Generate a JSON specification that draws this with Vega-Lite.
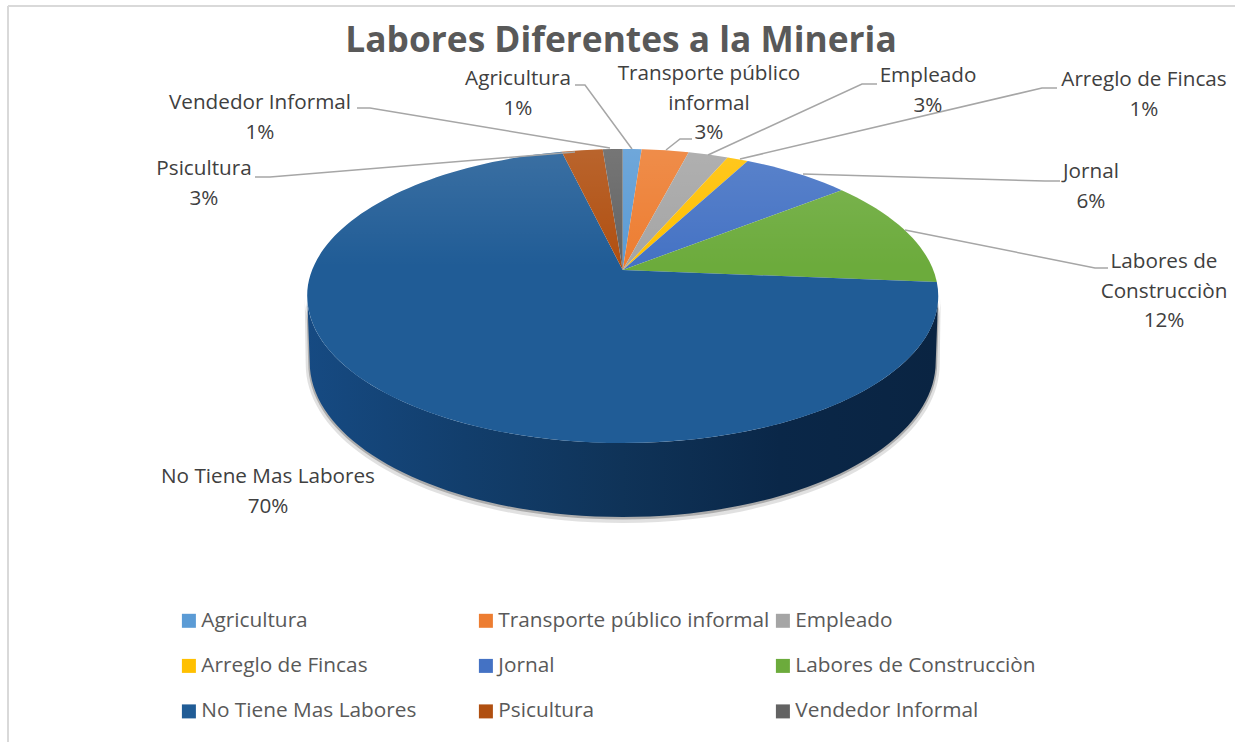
{
"$schema":"https://vega.github.io/schema/vega-lite/v6.json",
"width":1235,"height":742,"padding":0,"autosize":"none",
"background":"white",
"view":{"stroke":null},
"title":{"text":"Labores Diferentes a la Mineria","orient":"top","anchor":"middle","offset":-59,"dx":3.5,"font":"Open Sans","fontSize":35.3,"fontWeight":"bold","color":"#595959"},
"config":{"font":"Open Sans"},
"datasets":{
"porciones":[
{"categoria":"Agricultura","id":"a","porcentaje":1},
{"categoria":"Transporte público informal","id":"b","porcentaje":3},
{"categoria":"Empleado","id":"c","porcentaje":3},
{"categoria":"Arreglo de Fincas","id":"d","porcentaje":1},
{"categoria":"Jornal","id":"e","porcentaje":6},
{"categoria":"Labores de Construcciòn","id":"f","porcentaje":12},
{"categoria":"No Tiene Mas Labores","id":"g","porcentaje":70},
{"categoria":"Psicultura","id":"h","porcentaje":3},
{"categoria":"Vendedor Informal","id":"i","porcentaje":1}
],
"etiquetas":[
{"texto":"Agricultura\n1%","x":518,"y":79},
{"texto":"Transporte público\ninformal\n3%","x":709,"y":74},
{"texto":"Empleado\n3%","x":928,"y":76},
{"texto":"Arreglo de Fincas\n1%","x":1144,"y":80},
{"texto":"Jornal\n6%","x":1091,"y":172},
{"texto":"Labores de\nConstrucciòn\n12%","x":1164,"y":262},
{"texto":"No Tiene Mas Labores\n70%","x":268,"y":477},
{"texto":"Psicultura\n3%","x":204,"y":169},
{"texto":"Vendedor Informal\n1%","x":260,"y":103}
],
"lineas":[
{"id":"Agricultura","x":575,"y":85,"o":1},{"id":"Agricultura","x":585,"y":85,"o":2},{"id":"Agricultura","x":632,"y":149,"o":3},
{"id":"Transporte","x":666,"y":150,"o":1},{"id":"Transporte","x":680,"y":139,"o":2},{"id":"Transporte","x":692,"y":139,"o":3},
{"id":"Empleado","x":708,"y":155,"o":1},{"id":"Empleado","x":862,"y":84,"o":2},{"id":"Empleado","x":877,"y":84,"o":3},
{"id":"Arreglo","x":740,"y":159,"o":1},{"id":"Arreglo","x":1042,"y":88,"o":2},{"id":"Arreglo","x":1057,"y":88,"o":3},
{"id":"Jornal","x":803,"y":174,"o":1},{"id":"Jornal","x":1045,"y":181,"o":2},{"id":"Jornal","x":1060,"y":181,"o":3},
{"id":"Labores","x":905,"y":230,"o":1},{"id":"Labores","x":1095,"y":268,"o":2},{"id":"Labores","x":1108,"y":268,"o":3},
{"id":"Vendedor","x":610,"y":148,"o":1},{"id":"Vendedor","x":370,"y":108,"o":2},{"id":"Vendedor","x":357,"y":108,"o":3},
{"id":"Psicultura","x":575,"y":152,"o":1},{"id":"Psicultura","x":270,"y":177,"o":2},{"id":"Psicultura","x":255,"y":177,"o":3}
],
"uno":[{"parte":"marco"}]
},
"layer":[
{"data":{"name":"uno"},"mark":{"type":"rule","color":"#d9d9d9","strokeWidth":2},
 "encoding":{"x":{"datum":8,"scale":{"domain":[0,1235]},"axis":null},"y":{"datum":6,"scale":{"domain":[0,742],"reverse":true},"axis":null},"y2":{"datum":742}}},
{"data":{"name":"uno"},"mark":{"type":"rule","color":"#d9d9d9","strokeWidth":2},
 "encoding":{"x":{"datum":8,"scale":{"domain":[0,1235]},"axis":null},"x2":{"datum":1235},"y":{"datum":6,"scale":{"domain":[0,742],"reverse":true},"axis":null}}},
{"data":{"name":"porciones"},"mark":{"type":"point","shape":"square","filled":true,"size":0,"opacity":1,"strokeWidth":0},
 "encoding":{
  "x":{"datum":622.7,"scale":{"domain":[0,1235]},"axis":null},
  "y":{"datum":296,"scale":{"domain":[0,742],"reverse":true},"axis":null},
  "color":{"field":"categoria","type":"nominal","sort":null,"scale":{
   "domain":["Agricultura","Transporte público informal","Empleado","Arreglo de Fincas","Jornal","Labores de Construcciòn","No Tiene Mas Labores","Psicultura","Vendedor Informal"],
   "range":["#5b9bd5","#ed7d31","#a5a5a5","#ffc000","#4472c4","#6cab3c","#205c96","#b04f10","#636363"]},
   "legend":{"title":null,"orient":"none","direction":"horizontal","legendX":178.5,"legendY":610,"columns":3,"gridAlign":"all","columnPadding":3,"rowPadding":23.5,"symbolType":"square","symbolSize":196,"symbolStrokeWidth":0,"labelFont":"Open Sans","labelFontSize":20.8,"labelColor":"#595959","labelOffset":2,"labelLimit":400,"symbolOpacity":1}}
 }},
{"data":{"name":"uno"},"mark":{"type":"point","filled":true,"size":4,"opacity":1,"fill":"#333333","fillOpacity":0.15,"strokeWidth":0,
 "shape":"M-318,2L-317,68A317,159,0,0,0,317,68L318,2A315.5,147,0,0,1,-318,2Z"},
 "encoding":{"x":{"datum":622.7,"scale":{"domain":[0,1235]},"axis":null},"y":{"datum":296,"scale":{"domain":[0,742],"reverse":true},"axis":null}}},
{"data":{"name":"uno"},"mark":{"type":"point","filled":true,"size":4,"opacity":1,"fill":"#333333","fillOpacity":0.3,"strokeWidth":0,
 "shape":"M-316.5,1L-314.5,67A314.5,156.5,0,0,0,314.5,67L316.5,1A315.5,147,0,0,1,-316.5,1Z"},
 "encoding":{"x":{"datum":622.7,"scale":{"domain":[0,1235]},"axis":null},"y":{"datum":296,"scale":{"domain":[0,742],"reverse":true},"axis":null}}},
{"data":{"name":"uno"},"mark":{"type":"point","filled":true,"size":4,"opacity":1,"strokeWidth":0,
 "fill":{"gradient":"linear","x1":0,"y1":0,"x2":1,"y2":0,"stops":[{"offset":0,"color":"#164a82"},{"offset":0.25,"color":"#123e6c"},{"offset":0.5,"color":"#0f3358"},{"offset":0.75,"color":"#0a2748"},{"offset":1,"color":"#0a2442"}]},
 "shape":"M-315.5,0L-313,66A313,155,0,0,0,313,66L315.5,0A315.5,147,0,0,1,-315.5,0Z"},
 "encoding":{"x":{"datum":622.7,"scale":{"domain":[0,1235]},"axis":null},"y":{"datum":296,"scale":{"domain":[0,742],"reverse":true},"axis":null}}},
{"data":{"name":"porciones"},"mark":{"type":"point","filled":true,"size":4,"opacity":1,"strokeWidth":0},
 "encoding":{
  "x":{"datum":622.7,"scale":{"domain":[0,1235]},"axis":null},
  "y":{"datum":296,"scale":{"domain":[0,742],"reverse":true},"axis":null},
  "shape":{"field":"id","type":"nominal","legend":null,"scale":{
   "domain":["a","b","c","d","e","f","g","h","i"],
   "range":[
    "M0,-26L0,-147A315.5,147,0,0,1,19,-146.7Z",
    "M0,-26L19,-146.7A315.5,147,0,0,1,66,-143.7Z",
    "M0,-26L66,-143.7A315.5,147,0,0,1,105,-138.6Z",
    "M0,-26L105,-138.6A315.5,147,0,0,1,125,-135Z",
    "M0,-26L125,-135A315.5,147,0,0,1,219,-105.8Z",
    "M0,-26L219,-105.8A315.5,147,0,0,1,314.1,-14Z",
    "M0,-26L314.1,-14A315.5,147,0,1,1,-61,-144.2Z",
    "M0,-26L-61,-144.2A315.5,147,0,0,1,-20,-146.7Z",
    "M0,-26L-20,-146.7A315.5,147,0,0,1,0,-147Z"
   ]}},
  "color":{"field":"categoria","type":"nominal","sort":null,"legend":null}
 }},
{"data":{"name":"uno"},"mark":{"type":"point","filled":true,"size":4,"opacity":1,"strokeWidth":0,
 "fill":{"gradient":"linear","x1":0,"y1":0,"x2":0,"y2":1,"stops":[{"offset":0,"color":"rgba(255,255,255,0.12)"},{"offset":0.4,"color":"rgba(255,255,255,0)"},{"offset":1,"color":"rgba(255,255,255,0)"}]},
 "shape":"M-315.5,0A315.5,147,0,1,1,315.5,0A315.5,147,0,1,1,-315.5,0Z"},
 "encoding":{"x":{"datum":622.7,"scale":{"domain":[0,1235]},"axis":null},"y":{"datum":296,"scale":{"domain":[0,742],"reverse":true},"axis":null}}},
{"data":{"name":"lineas"},"mark":{"type":"line","color":"#a6a6a6","strokeWidth":1.5,"interpolate":"linear"},
 "encoding":{"x":{"field":"x","type":"quantitative","scale":{"domain":[0,1235]},"axis":null},"y":{"field":"y","type":"quantitative","scale":{"domain":[0,742],"reverse":true},"axis":null},"detail":{"field":"id"},"order":{"field":"o"}}},
{"data":{"name":"etiquetas"},"mark":{"type":"text","font":"Open Sans","fontSize":20.7,"color":"#404040","align":"center","baseline":"middle","lineBreak":"\n","lineHeight":29.5},
 "encoding":{"x":{"field":"x","type":"quantitative","scale":{"domain":[0,1235]},"axis":null},"y":{"field":"y","type":"quantitative","scale":{"domain":[0,742],"reverse":true},"axis":null},"text":{"field":"texto"}}}
]
}
